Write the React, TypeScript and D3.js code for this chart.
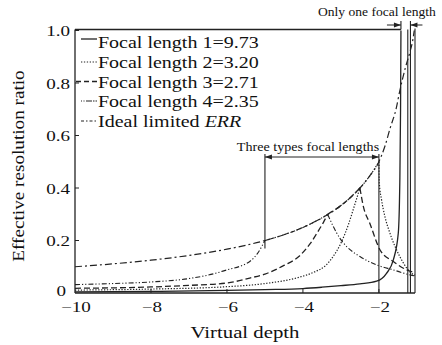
import React from "react";
import * as d3 from "d3";

const W = 442;
const H = 345;

// ---- data ----
const xTicks = [-10, -8, -6, -4, -2];
const yTicks = [0, 0.2, 0.4, 0.6, 0.8, 1.0];
const yTickLabels = ["0", "0.2", "0.4", "0.6", "0.8", "1.0"];

const legendLabels = [
  "Focal length 1=9.73",
  "Focal length 2=3.20",
  "Focal length 3=2.71",
  "Focal length 4=2.35",
  "Ideal limited ",
];

const idealERR: [number, number][] = [
  [-10, 0.1], [-9, 0.111], [-8, 0.125], [-7, 0.143], [-6, 0.167], [-5, 0.2],
  [-4.5, 0.222], [-4, 0.25], [-3.5, 0.286], [-3, 0.333], [-2.5, 0.4],
  [-2.25, 0.444], [-2, 0.5], [-1.84, 0.56], [-1.7, 0.63], [-1.55, 0.7],
  [-1.45, 0.77], [-1.3, 0.86], [-1.18, 0.92], [-1.1, 0.97], [-1.07, 1.0],
];

const focal1: [number, number][] = [
  [-10, 0.004], [-8, 0.006], [-6, 0.01], [-5, 0.013], [-4, 0.017], [-3.5, 0.022],
  [-3, 0.028], [-2.5, 0.035], [-2.06, 0.045], [-1.8, 0.075], [-1.62, 0.126],
  [-1.49, 0.228], [-1.45, 0.42], [-1.43, 0.7], [-1.42, 1.0],
];

const focal2: [number, number][] = [
  [-10, 0.011], [-8, 0.015], [-6, 0.024], [-5, 0.036], [-4.1, 0.06], [-3.7, 0.08],
  [-3.4, 0.105], [-3.2, 0.14], [-3.0, 0.19], [-2.8, 0.262], [-2.65, 0.33], [-2.5, 0.4],
  [-2.25, 0.444], [-2.0, 0.5],
  [-1.99, 0.42], [-1.93, 0.355], [-1.84, 0.29], [-1.71, 0.228], [-1.45, 0.139],
  [-1.14, 0.075], [-1.05, 0.068],
];
const focal2Cusps = [-2.5, -2.0];

const focal3: [number, number][] = [
  [-10, 0.018], [-8, 0.023], [-7, 0.029], [-6, 0.038], [-5.4, 0.057], [-5, 0.072],
  [-4.5, 0.105], [-4.1, 0.14], [-3.8, 0.19], [-3.6, 0.235], [-3.45, 0.272], [-3.35, 0.3],
  [-3, 0.333], [-2.75, 0.364], [-2.5, 0.4],
  [-2.41, 0.33], [-2.24, 0.266], [-1.97, 0.164], [-1.62, 0.12], [-1.14, 0.081], [-1.05, 0.078],
];
const focal3Cusps = [-3.35, -2.5];

const focal4: [number, number][] = [
  [-10, 0.032], [-9, 0.036], [-8, 0.042], [-7, 0.055], [-6.3, 0.075], [-6, 0.088],
  [-5.6, 0.105], [-5.4, 0.12], [-5.2, 0.15], [-5.08, 0.178], [-5, 0.2],
  [-4.5, 0.222], [-4, 0.25], [-3.6, 0.278], [-3.35, 0.3],
  [-3.2, 0.253], [-3.03, 0.209], [-2.85, 0.177], [-2.5, 0.139], [-2.06, 0.107],
  [-1.62, 0.088], [-1.18, 0.069], [-1.05, 0.065],
];
const focal4Cusps = [-5, -3.35];

const threeTypesRange = [-5, -2];
const threeTypesBottom = [0.17, 0];
const oneFocalRange = [-1.42, -1.17];
const extraVerticals = [-1.24];
const xDomain = [-10, -1.05];

// ---- layout ----
const FONT = "Liberation Serif";
const x = d3.scaleLinear().domain(xDomain).range([75, 415]);
const y = d3.scaleLinear().domain([0, 1]).range([293, 30.5]);
const INK = "#222";

function split(pts: [number, number][], cusps: number[]) {
  const segs: [number, number][][] = [];
  let cur: [number, number][] = [];
  pts.forEach((p) => {
    cur.push(p);
    if (cusps.includes(p[0])) {
      segs.push(cur);
      cur = [p];
    }
  });
  if (cur.length > 1) segs.push(cur);
  return segs;
}

const lineGen = d3
  .line<[number, number]>()
  .x((d) => x(d[0]))
  .y((d) => y(d[1]))
  .curve(d3.curveMonotoneX);

function pathOf(pts: [number, number][], cusps: number[] = []) {
  return split(pts, cusps)
    .map((s) => lineGen(s) || "")
    .join("");
}

const styles = [
  { dash: "none", w: 1.3 },
  { dash: "1.3,1.6", w: 1.2 },
  { dash: "6,3", w: 1.3 },
  { dash: "5,2,1.2,2,1.2,2", w: 1.1 },
  { dash: "7,3,2,3", w: 1.2 },
];
const legendDash = ["none", "1.3,1.6", "5,3", "1,1.5,1,1.5,6", "3,2,1.5,2"];

function Txt({ x: tx, y: ty, size, sx = 1.27, anchor = "start", children }: any) {
  return (
    <text
      transform={`translate(${tx},${ty}) scale(${sx},1)`}
      fontSize={size}
      textAnchor={anchor}
      style={{ fontFamily: FONT }}
      fill="#111"
    >
      {children}
    </text>
  );
}

function ArrowHead({ tipX, tipY, dir }: { tipX: number; tipY: number; dir: number }) {
  const L = 7;
  const hw = 2.4;
  return (
    <polygon
      points={`${tipX},${tipY} ${tipX - dir * L},${tipY - hw} ${tipX - dir * L},${tipY + hw}`}
      fill={INK}
    />
  );
}

export default function App() {
  const left = x(xDomain[0]);
  const right = x(xDomain[1]);
  const top = y(1) - 1;
  const bottom = y(0);
  const legendY = [48, 68, 87.5, 107, 127];
  const series = [focal1, focal2, focal3, focal4];
  const cusps = [[], focal2Cusps, focal3Cusps, focal4Cusps];
  const arrowY3 = 157;
  const arrowY1 = 25;

  return (
    <svg
      width={W}
      height={H}
      style={{ position: "absolute", left: 0, top: 0, background: "#fff", fontFamily: FONT }}
    >
      <rect x={0} y={0} width={W} height={H} fill="#fff" />

      {/* curves */}
      <path d={pathOf(idealERR)} fill="none" stroke={INK} strokeWidth={styles[4].w} strokeDasharray={styles[4].dash} />
      {series.map((s, i) => (
        <path
          key={i}
          d={pathOf(s, cusps[i])}
          fill="none"
          stroke={INK}
          strokeWidth={styles[i].w}
          strokeDasharray={styles[i].dash}
        />
      ))}

      {/* frame */}
      <line x1={left} y1={top} x2={x(oneFocalRange[0])} y2={top} stroke={INK} strokeWidth={1.3} />
      <line x1={left} y1={top} x2={left} y2={bottom} stroke={INK} strokeWidth={1.3} />
      <line x1={left} y1={bottom} x2={right} y2={bottom} stroke={INK} strokeWidth={1.3} />
      <line x1={right} y1={top - 1} x2={right} y2={bottom} stroke={INK} strokeWidth={1.1} />

      {/* ticks */}
      {xTicks.map((t) => (
        <g key={"xt" + t}>
          {t !== xDomain[0] && <line x1={x(t)} x2={x(t)} y1={bottom} y2={bottom - 4} stroke={INK} strokeWidth={1} />}
          <Txt x={x(t) + 1} y={312} size={15} anchor="middle">
            {"\u2212" + Math.abs(t)}
          </Txt>
        </g>
      ))}
      {yTicks.map((t, i) => (
        <g key={"yt" + t}>
          {t !== 0 && <line x1={left} x2={left + 4} y1={y(t)} y2={y(t)} stroke={INK} strokeWidth={1} />}
          <Txt x={t === 0 ? 66 : 70} y={t === 0 ? y(t) + 3 : y(t) + 5.5} size={15} anchor="end">
            {yTickLabels[i]}
          </Txt>
        </g>
      ))}

      {/* axis titles */}
      <text
        transform={`translate(24,166) rotate(-90) scale(1.2,1)`}
        fontSize={16}
        textAnchor="middle"
        style={{ fontFamily: FONT }}
        fill="#111"
      >
        Effective resolution ratio
      </text>
      <Txt x={245} y={338} size={16.5} anchor="middle" sx={1.26}>
        Virtual depth
      </Txt>

      {/* legend */}
      {legendLabels.map((lab, i) => {
        const ly = legendY[i] - (i === 0 ? 9 : 6);
        return (
          <g key={"lg" + i}>
            <line
              x1={i === 2 ? 76 : 81}
              x2={97}
              y1={ly}
              y2={ly}
              stroke={INK}
              strokeWidth={styles[i].w}
              strokeDasharray={legendDash[i]}
            />
            <Txt x={98} y={legendY[i]} size={16} sx={1.25}>
              {lab}
              {i === 4 && <tspan fontStyle="italic">ERR</tspan>}
            </Txt>
          </g>
        );
      })}

      {/* three types focal lengths annotation */}
      <line x1={x(threeTypesRange[0])} x2={x(threeTypesRange[0])} y1={arrowY3 - 3} y2={y(threeTypesBottom[0])} stroke={INK} strokeWidth={1.1} />
      <line x1={x(threeTypesRange[1])} x2={x(threeTypesRange[1])} y1={arrowY3 - 3} y2={y(threeTypesBottom[1])} stroke={INK} strokeWidth={1.1} />
      <line x1={x(threeTypesRange[0])} x2={x(threeTypesRange[1])} y1={arrowY3} y2={arrowY3} stroke={INK} strokeWidth={1} />
      <ArrowHead tipX={x(threeTypesRange[0])} tipY={arrowY3} dir={-1} />
      <ArrowHead tipX={x(threeTypesRange[1])} tipY={arrowY3} dir={1} />
      <Txt x={308} y={151} size={12.5} anchor="middle" sx={1.13}>
        Three types focal lengths
      </Txt>

      {/* only one focal length annotation */}
      <line x1={x(oneFocalRange[0])} x2={x(oneFocalRange[0])} y1={arrowY1 - 4} y2={top} stroke={INK} strokeWidth={1.1} />
      <line x1={x(oneFocalRange[1])} x2={x(oneFocalRange[1])} y1={arrowY1 - 4} y2={bottom} stroke={INK} strokeWidth={1.1} />
      {extraVerticals.map((v) => (
        <line key={"ev" + v} x1={x(v)} x2={x(v)} y1={top} y2={bottom} stroke={INK} strokeWidth={1.1} />
      ))}
      <line x1={x(oneFocalRange[0]) - 14} x2={x(oneFocalRange[0])} y1={arrowY1} y2={arrowY1} stroke={INK} strokeWidth={1} />
      <ArrowHead tipX={x(oneFocalRange[0])} tipY={arrowY1} dir={1} />
      <line x1={x(oneFocalRange[1])} x2={x(oneFocalRange[1]) + 12} y1={arrowY1} y2={arrowY1} stroke={INK} strokeWidth={1} />
      <ArrowHead tipX={x(oneFocalRange[1])} tipY={arrowY1} dir={-1} />
      <Txt x={318} y={16} size={12} sx={1.13}>
        Only one focal length
      </Txt>
    </svg>
  );
}
